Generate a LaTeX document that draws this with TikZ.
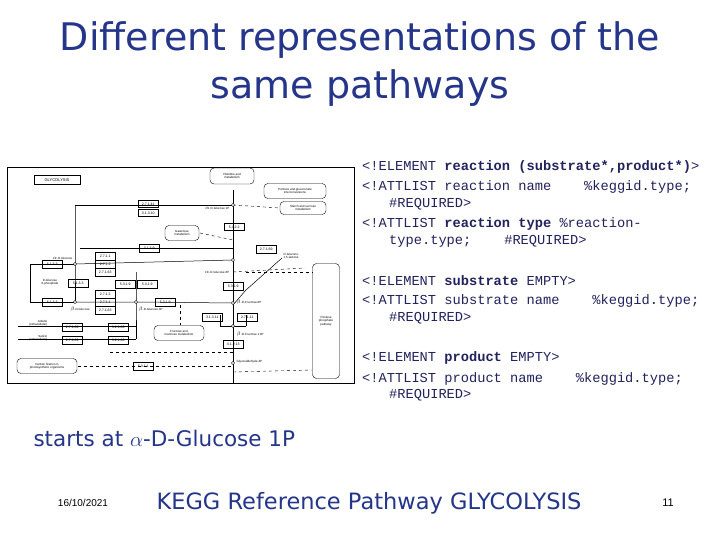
\documentclass[tikz,border=0pt]{standalone}
\usepackage{fontspec}
\setmainfont{DejaVu Sans}
\newfontfamily\codefont{Liberation Mono}
\newfontfamily\smallfont{Liberation Sans}
\definecolor{ttl}{HTML}{24358A}
\definecolor{code}{HTML}{22225E}
\begin{document}
\begin{tikzpicture}[x=1pt,y=-1pt,
  title/.style={text=ttl,font=\fontsize{38}{40}\selectfont,anchor=center},
  cl/.style={anchor=west,text=code,font=\codefont\fontsize{13.7}{14}\selectfont,inner sep=0},
  ec/.style={draw,line width=0.5pt,minimum width=20pt,minimum height=7.5pt,inner sep=0,font=\smallfont\fontsize{3.5}{4}\selectfont,anchor=north west},
  rn/.style={draw,rounded corners=4pt,line width=0.4pt,inner sep=1pt,align=center,font=\smallfont\fontsize{3}{3.5}\selectfont},
  cp/.style={font=\smallfont\fontsize{3}{3.5}\selectfont,inner sep=0.5pt},
  ln/.style={line width=0.5pt},
  dl/.style={line width=0.4pt,dashed},
  foot/.style={text=ttl,font=\fontsize{22.5}{24}\selectfont,anchor=center}]
\useasboundingbox (0,0) rectangle (720,540);
\fill[white] (0,0) rectangle (720,540);
\node[title] (t1) at (360,40) {Different representations of the};
\node[title] (t2) at (360,88) {same pathways};
% pathway picture
\draw[line width=0.8pt] (7,167) rectangle (354,383);
\node[draw,line width=0.5pt,font=\smallfont\fontsize{4}{5}\selectfont,minimum width=46pt,minimum height=9pt,inner sep=0] (gly) at (57,180) {GLYCOLYSIS};
\coordinate (vtop) at (233,205);
\coordinate (g6p) at (233,260);
\coordinate (f6p) at (233,303);
\coordinate (fbp) at (233,326);
\coordinate (gap) at (233,363);
\coordinate (glc) at (75,264);
\coordinate (bglc) at (75,302);
\coordinate (bg6p) at (136,302);
\draw[ln] (233,190) -- (233,383);
\draw[ln] (glc) -- (g6p);
\draw[ln] (bglc) -- (bg6p) -- (f6p);
\draw[ln] (75,205) -- (vtop);
\draw[ln] (75,205) -- (glc) -- (bglc);
\draw[ln] (30,264) -- (glc);
\draw[ln] (30,302) -- (bglc);
\draw[ln] (30,264) -- (30,302);
\draw[ln] (80,248) -- (233,248);
\draw[ln] (136,272) -- (bg6p) -- (136,339);
\draw[ln] (18,326) -- (136,326);
\draw[ln] (18,339) -- (136,339);
\draw[ln] (220,326) -- (246,326);
\draw[ln] (220,315) -- (220,326); \draw[ln] (246,315) -- (246,326);
\draw[ln] (233,305) -- (246,290) -- (282,258);
\draw[dl] (233,205) -- (280,208);
\draw[dl] (233,272) -- (305,268);
\draw[dl] (200,233) -- (233,240);
\draw[dl] (180,305) -- (180,325);
\draw[dl] (78,366) -- (233,366);
\draw[dl] (233,372) -- (312,370);
\draw[dl] (110,352) -- (233,352);
\foreach \p in {vtop,g6p,f6p,fbp,gap,glc,bglc,bg6p}
  \draw[fill=white,line width=0.4pt] (\p) circle (1.6pt);
\node[ec] (e1) at (138,200) {2.7.1.41};
\node[ec] (e2) at (138,209) {3.1.3.10};
\node[ec] (e3) at (224,223) {5.4.2.2};
\node[ec] (e4) at (139,244) {3.1.3.9};
\node[ec] (e5) at (95,252) {2.7.1.1};
\node[ec] (e6) at (95,260) {2.7.1.2};
\node[ec] (e7) at (95,268) {2.7.1.63};
\node[ec] (e8) at (42,260) {5.1.3.3};
\node[ec] (e9) at (42,298) {5.1.3.3};
\node[ec] (e10) at (68,279) {5.1.3.3};
\node[ec] (e11) at (95,290) {2.7.1.2};
\node[ec] (e12) at (95,298) {2.7.1.1};
\node[ec] (e13) at (95,306) {2.7.1.63};
\node[ec] (e14) at (115,280) {5.3.1.9};
\node[ec] (e15) at (137,280) {5.3.1.9};
\node[ec] (e16) at (155,298) {5.3.1.9};
\node[ec] (e17) at (223,282) {5.3.1.9};
\node[ec] (e18) at (202,313) {3.1.3.11};
\node[ec] (e19) at (237,313) {2.7.1.11};
\node[ec] (e20) at (223,340) {4.1.2.13};
\node[ec] (e21) at (133,362) {5.3.1.1};
\node[ec] (e22) at (62,323) {2.7.1.69};
\node[ec] (e23) at (62,336) {2.7.1.69};
\node[ec] (e24) at (108,323) {3.2.1.86};
\node[ec] (e25) at (108,336) {3.2.1.86};
\node[ec] (e26) at (256,245) {2.7.1.69};
\node[rn,minimum width=44pt,minimum height=16pt] (r1) at (232,176) {Histidine and\\metabolism};
\node[rn,minimum width=62pt,minimum height=15pt] (r2) at (295,191) {Pentose and glucuronate\\interconversions};
\node[rn,minimum width=46pt,minimum height=13pt] (r3) at (303,208) {Starch and sucrose\\metabolism};
\node[rn,minimum width=34pt,minimum height=15pt] (r4) at (182,233) {Galactose\\metabolism};
\node[rn,minimum width=50pt,minimum height=15pt] (r5) at (179,333) {Fructose and\\mannose metabolism};
\node[rn,minimum width=60pt,minimum height=15pt] (r6) at (47,366) {Carbon fixation in\\photosynthetic organisms};
\node[rn,minimum width=27pt,minimum height=115pt] (r7) at (326,321) {Pentose\\phosphate\\pathway};
\draw[dl] (246,272) -- (r7.west |- 0,272);
\node[cp,anchor=east] (c1) at (230,208) {$\alpha$-D-Glucose 1P};
\node[cp,anchor=east] (c2) at (230,272) {$\alpha$-D-Glucose-6P};
\node[cp,anchor=west] (c3) at (236,302) {$\beta$-D-Fructose-6P};
\node[cp,anchor=west] (c4) at (236,334) {$\beta$-D-Fructose 1,6P};
\node[cp,anchor=west] (c5) at (236,362) {Glyceraldehyde-3P};
\node[cp,anchor=east] (c6) at (73,258) {$\alpha$-D-Glucose};
\node[cp,anchor=north] (c7) at (80,306) {$\beta$-D-Glucose};
\node[cp,anchor=west] (c8) at (138,309) {$\beta$-D-Glucose-6P};
\node[cp,anchor=east,align=right] (c9) at (48,323) {Arbutin\\(extracellular)};
\node[cp,anchor=east,align=right] (c10) at (48,338) {Salicin\\(extracellular)};
\node[cp,anchor=west,align=left] (c11) at (283,256) {D-Glucono-\\1,5-lactone};
\node[cp,align=center] (c12) at (50,282) {D-Glucose\\6-phosphate};
% code
\node[cl] (l1) at (362,167) {<!ELEMENT \textbf{reaction (substrate*,product*)}>};
\node[cl] (l2) at (362,187) {<!ATTLIST reaction name\ \ \ \ \%keggid.type;};
\node[cl] (l3) at (389,204) {\#REQUIRED>};
\node[cl] (l4) at (362,224) {<!ATTLIST \textbf{reaction type} \%reaction-};
\node[cl] (l5) at (389,241) {type.type;\ \ \ \ \#REQUIRED>};
\node[cl] (l6) at (362,281) {<!ELEMENT \textbf{substrate} EMPTY>};
\node[cl] (l7) at (362,301) {<!ATTLIST substrate name\ \ \ \ \%keggid.type;};
\node[cl] (l8) at (389,318) {\#REQUIRED>};
\node[cl] (l9) at (362,358) {<!ELEMENT \textbf{product} EMPTY>};
\node[cl] (l10) at (362,379) {<!ATTLIST product name\ \ \ \ \%keggid.type;};
\node[cl] (l11) at (389,395) {\#REQUIRED>};
% footer
\node[foot,anchor=west,font=\fontsize{21.5}{24}\selectfont] (s) at (30,438) {starts at $\alpha$-D-Glucose 1P};
\node[anchor=center,font=\smallfont\fontsize{10}{12}\selectfont] (d) at (83,503) {16/10/2021};
\node[foot] (k) at (369,503) {KEGG Reference Pathway GLYCOLYSIS};
\node[anchor=center,font=\smallfont\fontsize{11}{12}\selectfont] (n) at (668,503) {11};
\end{tikzpicture}
\end{document}
